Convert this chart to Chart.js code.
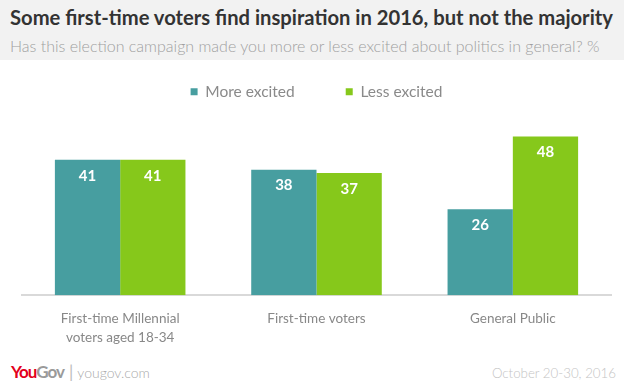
<!DOCTYPE html>
<html><head><meta charset="utf-8">
<script src="https://cdn.jsdelivr.net/npm/chart.js@4/dist/chart.umd.min.js"></script>
<style>
html,body{margin:0;padding:0;width:624px;height:388px;background:#fff;overflow:hidden;font-family:Lato,"Open Sans",sans-serif;}
#hdr{position:absolute;left:0;top:0;width:624px;height:60px;background:#f2f2f2;}
#title{position:absolute;left:10px;top:7px;font-size:20.2px;line-height:21px;font-weight:bold;color:#333;letter-spacing:0px;white-space:nowrap;}
#sub{position:absolute;left:10px;top:38px;font-size:16px;line-height:16px;color:#a0a0a0;white-space:nowrap;font-weight:300;}
#wrap{position:absolute;left:0;top:33px;width:624px;height:320px;}
#logo{position:absolute;left:11px;top:363px;white-space:nowrap;line-height:18px;}
#logo .y{color:#e3001b;font-weight:bold;letter-spacing:-1px;font-size:17px}
#logo .g{color:#9a9a9a;font-weight:bold;letter-spacing:-1px;font-size:17px}
#logo .s{color:#bbb;margin:0 4px 0 5px;font-size:17px}
#logo .u{color:#aaa;font-weight:300;font-size:14px}
#date{position:absolute;right:8px;top:365px;font-size:13.3px;line-height:16px;color:#c4c4c4;font-weight:300;white-space:nowrap;}
</style></head>
<body>
<div id="hdr"><div id="title">Some first-time voters find inspiration in 2016, but not the majority</div>
<div id="sub">Has this election campaign made you more or less excited about politics in general? %</div></div>
<div id="wrap"><canvas id="c" width="624" height="320"></canvas></div>
<div id="logo"><span class="y">You</span><span class="g">Gov</span><span class="s">|</span><span class="u">yougov.com</span></div>
<div id="date">October 20-30, 2016</div>
<script>
const categories = [["First-time Millennial","voters aged 18-34"], "First-time voters", "General Public"];
const seriesNames = ["More excited", "Less excited"];
const moreExcited = [41, 38, 26];
const lessExcited = [41, 37, 48];
const colors = ["#479ea0", "#86c81b"];
const yMax = 56.2;

const valueLabels = {
  id: 'valueLabels',
  afterDatasetsDraw(chart) {
    const ctx = chart.ctx;
    ctx.save();
    ctx.fillStyle = '#fff';
    ctx.font = 'bold 15px Lato, "Open Sans", sans-serif';
    ctx.textAlign = 'center';
    ctx.textBaseline = 'middle';
    chart.data.datasets.forEach((ds, i) => {
      chart.getDatasetMeta(i).data.forEach((bar, j) => {
        ctx.fillText(String(ds.data[j]), bar.x, bar.y + 16);
      });
    });
    ctx.restore();
  }
};

new Chart(document.getElementById('c'), {
  type: 'bar',
  data: {
    labels: categories,
    datasets: [
      {label: seriesNames[0], data: moreExcited, backgroundColor: colors[0]},
      {label: seriesNames[1], data: lessExcited, backgroundColor: colors[1]}
    ]
  },
  options: {
    responsive: false,
    animation: false,
    layout: {padding: {left: 22, right: 13, top: 0, bottom: 0}},
    datasets: {bar: {barPercentage: 1, categoryPercentage: 0.665}},
    plugins: {
      legend: {
        position: 'top',
        maxHeight: 77,
        labels: {boxWidth: 7, boxHeight: 7, color: '#8a8a8a', padding: 51,
          font: {size: 15.5, family: 'Lato, "Open Sans", sans-serif'}}
      },
      tooltip: {enabled: false}
    },
    scales: {
      x: {
        grid: {display: false},
        border: {display: true, color: '#d9d9d9', width: 2},
        ticks: {color: '#888', font: {size: 13.5, lineHeight: 1.4, family: 'Lato, "Open Sans", sans-serif'}, padding: 6}
      },
      y: {display: false, min: 0, max: yMax}
    }
  },
  plugins: [valueLabels]
});
</script>
</body></html>
